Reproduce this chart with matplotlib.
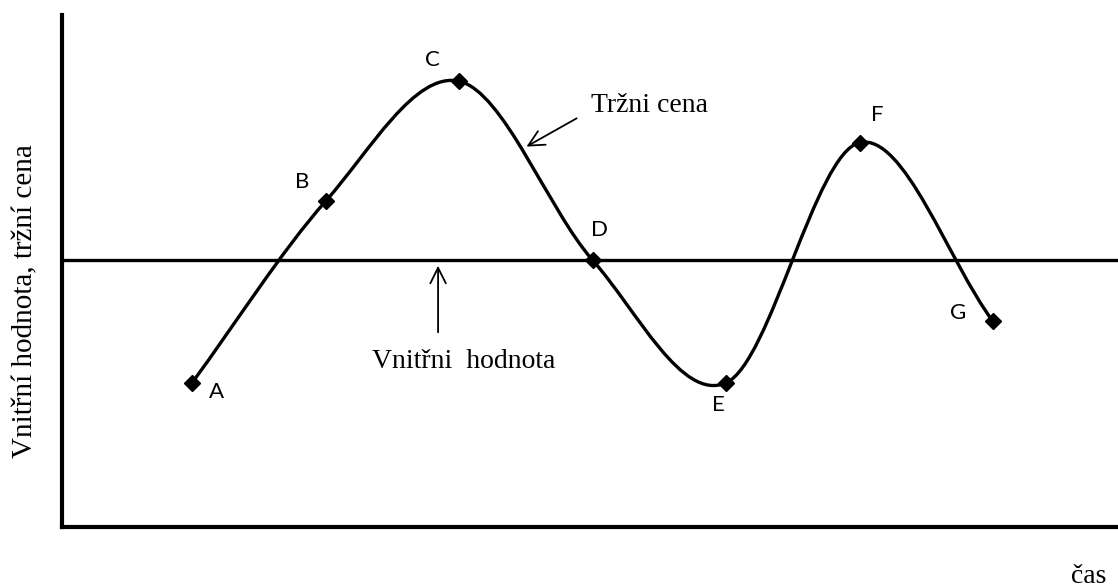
import numpy as np
import matplotlib
matplotlib.use('Agg')
import matplotlib.pyplot as plt
from matplotlib.path import Path
from matplotlib.patches import PathPatch

# body grafu (cas, trzni cena) + vnitrni hodnota
body = ['A', 'B', 'C', 'D', 'E', 'F', 'G']
cas = [1, 2, 3, 4, 5, 6, 7]
trzni_cena = [54, 122, 167, 100, 54, 144, 77]
vnitrni_hodnota = 100

# posun popisku bodu v pixelech
offsety = [(24, -9), (-23, 19), (-27, 21), (7, 30), (-8, -22), (18, 28), (-35, 8)]


def smooth_path(t, v):
    # hladka cara pres body (jako "smoothed line" v Excelu), bezierovy segmenty
    t = np.asarray(t, float)
    v = np.asarray(v, float)
    n = len(t)
    mt = np.zeros(n)
    mv = np.zeros(n)
    mt[1:-1] = (t[2:] - t[:-2]) / 2
    mv[1:-1] = (v[2:] - v[:-2]) / 2
    mt[0], mv[0] = t[1] - t[0], v[1] - v[0]
    mt[-1], mv[-1] = t[-1] - t[-2], v[-1] - v[-2]
    verts = [(t[0], v[0])]
    codes = [Path.MOVETO]
    for i in range(n - 1):
        verts += [(t[i] + mt[i] / 3, v[i] + mv[i] / 3),
                  (t[i + 1] - mt[i + 1] / 3, v[i + 1] - mv[i + 1] / 3),
                  (t[i + 1], v[i + 1])]
        codes += [Path.CURVE4] * 3
    return Path(verts, codes)


W, H = 1118, 588
fig = plt.figure(figsize=(W / 100, H / 100), dpi=100)
ax = fig.add_axes([62 / W, (H - 527) / H, (W - 62) / W, (527 - 15) / H])
ax.set_xlim(0.026, 7.936)
ax.set_ylim(0, 191.8)

for s in ['top', 'right']:
    ax.spines[s].set_visible(False)
for s in ['left', 'bottom']:
    ax.spines[s].set_linewidth(3)
    ax.spines[s].set_color('black')
ax.set_xticks([])
ax.set_yticks([])

ax.axhline(vnitrni_hodnota, color='black', lw=2.4)
ax.add_patch(PathPatch(smooth_path(cas, trzni_cena), fill=False, lw=2.4, color='black'))
ax.plot(cas, trzni_cena, 'D', color='black', markersize=8.5, markeredgewidth=1)

for lab, x, y, off in zip(body, cas, trzni_cena, offsety):
    ax.annotate(lab, (x, y), xytext=off, textcoords='offset pixels',
                ha='center', va='center', fontsize=16, family='Lato')

serif = 'Liberation Serif'
ax.text(3.99, 155.4, 'Tržni cena', fontsize=20, family=serif, va='baseline', ha='left')
ax.annotate('', xy=(3.487, 142), xytext=(3.899, 153.6),
            arrowprops=dict(arrowstyle='->', lw=1.3, mutation_scale=28, color='black'))

ax.text(3.037, 59.6, 'Vnitřni  hodnota', fontsize=20, family=serif, va='baseline', ha='center')
ax.annotate('', xy=(2.843, 98.9), xytext=(2.843, 71.9),
            arrowprops=dict(arrowstyle='->', lw=1.3, mutation_scale=28, color='black'))

fig.text(25 / W, 1 - 301 / H, 'Vnitřní hodnota, tržní cena', rotation=90,
         fontsize=21, family=serif, ha='center', va='center')
fig.text(1089 / W, 1 - 583 / H, 'čas', fontsize=20, family=serif, ha='center', va='baseline')

fig.savefig('out.png', dpi=100)
